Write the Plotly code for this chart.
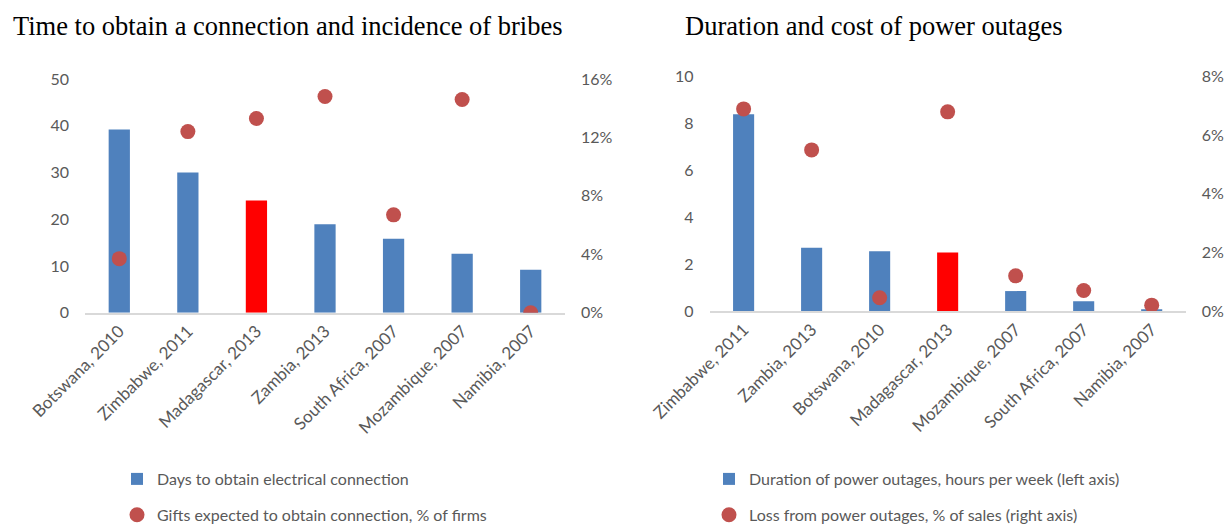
import plotly.graph_objects as go

# Left chart data
conn_countries = ["Botswana, 2010", "Zimbabwe, 2011", "Madagascar, 2013", "Zambia, 2013",
                  "South Africa, 2007", "Mozambique, 2007", "Namibia, 2007"]
days_to_connect = [39.2, 30.0, 24.0, 18.9, 15.8, 12.6, 9.2]
gifts_expected_pct = [3.7, 12.4, 13.3, 14.8, 6.7, 14.6, 0.0]

# Right chart data
outage_countries = ["Zimbabwe, 2011", "Zambia, 2013", "Botswana, 2010", "Madagascar, 2013",
                    "Mozambique, 2007", "South Africa, 2007", "Namibia, 2007"]
outage_hours = [8.4, 2.7, 2.55, 2.5, 0.85, 0.42, 0.07]
outage_loss_pct = [6.9, 5.5, 0.45, 6.8, 1.2, 0.7, 0.2]

highlight = "Madagascar, 2013"
BLUE = "#4F81BD"
RED = "#FF0000"
DOT = "#C0504D"
GRAY = "#595959"
FONT = "Lato"

W, H = 1226, 527

def px_x(a, b):
    return [a / W, b / W]

def px_y(top, bottom):
    return [(H - bottom) / H, (H - top) / H]

def fx(a):
    return a / W

def fy(b):
    return (H - b) / H

fig = go.Figure()

fig.add_trace(go.Bar(
    x=conn_countries, y=days_to_connect,
    marker=dict(color=[RED if c == highlight else BLUE for c in conn_countries], line_width=0),
    width=0.31, name="Days to obtain electrical connection",
    xaxis="x", yaxis="y", legend="legend", legendgroup="a1"))
fig.add_trace(go.Scatter(
    x=conn_countries, y=[v / 100 for v in gifts_expected_pct], mode="markers",
    marker=dict(color=DOT, size=15),
    name="Gifts expected to obtain connection, % of firms",
    xaxis="x", yaxis="y2", legend="legend", legendgroup="a2"))

fig.add_trace(go.Bar(
    x=outage_countries, y=outage_hours,
    marker=dict(color=[RED if c == highlight else BLUE for c in outage_countries], line_width=0),
    width=0.31, name="Duration of power outages, hours per week (left axis)",
    xaxis="x2", yaxis="y3", legend="legend2", legendgroup="b1"))
fig.add_trace(go.Scatter(
    x=outage_countries, y=[v / 100 for v in outage_loss_pct], mode="markers",
    marker=dict(color=DOT, size=15),
    name="Loss from power outages, % of sales (right axis)",
    xaxis="x2", yaxis="y4", legend="legend2", legendgroup="b2"))

tickfont = dict(family=FONT, size=16, color=GRAY)
xtickfont = dict(family=FONT, size=17, color=GRAY)
xcommon = dict(type="category", showline=True, linecolor="#D9D9D9", linewidth=2,
               showgrid=False, ticks="", tickangle=-45, tickfont=xtickfont, zeroline=False,
               automargin=False)
ycommon = dict(showgrid=False, zeroline=False, showline=False, ticks="", tickfont=tickfont,
               ticklabelstandoff=15, automargin=False)
legfont = dict(family=FONT, size=16, color=GRAY)

fig.update_layout(
    template="none",
    width=W, height=H,
    margin=dict(l=0, r=0, t=0, b=0, autoexpand=False),
    paper_bgcolor="white", plot_bgcolor="white",
    xaxis=dict(domain=px_x(85, 565), anchor="y", **xcommon),
    yaxis=dict(domain=px_y(79, 312.7), range=[0, 50], dtick=10, anchor="x", **ycommon),
    yaxis2=dict(range=[0, 0.16], dtick=0.04, tickformat=".0%", overlaying="y", side="right",
                anchor="x", **ycommon),
    xaxis2=dict(domain=px_x(709.6, 1185.7), anchor="y3", **xcommon),
    yaxis3=dict(domain=px_y(76.7, 311), range=[0, 10], dtick=2, anchor="x2", **ycommon),
    yaxis4=dict(range=[0, 0.08], dtick=0.02, tickformat=".0%", overlaying="y3", side="right",
                anchor="x2", **ycommon),
    legend=dict(x=fx(117), y=fy(462), xanchor="left", yanchor="top",
                font=legfont, tracegroupgap=12, bgcolor="rgba(0,0,0,0)", borderwidth=0),
    legend2=dict(x=fx(709), y=fy(462), xanchor="left", yanchor="top",
                 font=legfont, tracegroupgap=12, bgcolor="rgba(0,0,0,0)", borderwidth=0),
    showlegend=True,
    annotations=[
        dict(text="Time to obtain a connection and incidence of bribes", xref="paper", yref="paper",
             x=fx(11), y=fy(26), xanchor="left", yanchor="middle", showarrow=False,
             font=dict(family="Liberation Serif", size=26.5, color="black")),
        dict(text="Duration and cost of power outages", xref="paper", yref="paper",
             x=fx(682.5), y=fy(26), xanchor="left", yanchor="middle", showarrow=False,
             font=dict(family="Liberation Serif", size=26.5, color="black")),
    ],
)

fig.write_html(
    "out.html",
    config={"displayModeBar": False},
    post_script="document.body.style.margin='0';document.body.style.overflow='hidden';",
)
